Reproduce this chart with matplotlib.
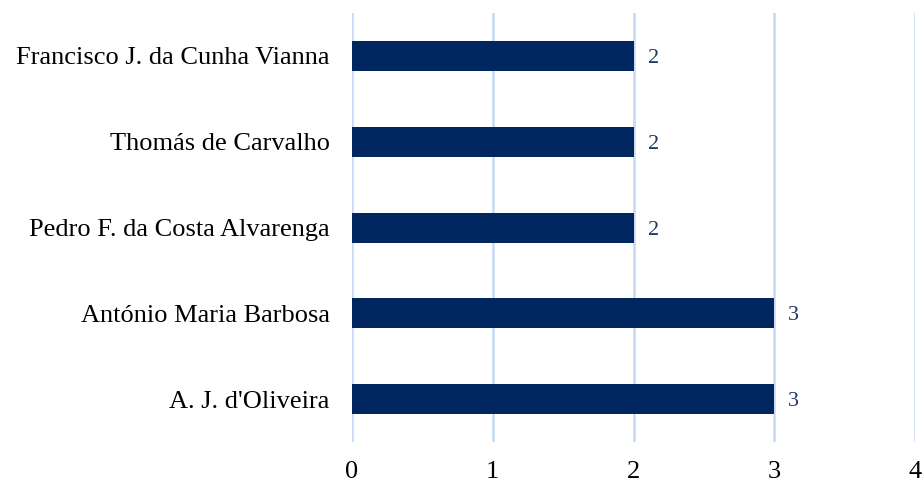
import matplotlib.pyplot as plt

# dados
nomes = ["A. J. d'Oliveira", "António Maria Barbosa", "Pedro F. da Costa Alvarenga",
         "Thomás de Carvalho", "Francisco J. da Cunha Vianna"]
valores = [3, 3, 2, 2, 2]
ticks_x = [0, 1, 2, 3, 4]

plt.rcParams['font.family'] = ['Liberation Serif', 'DejaVu Serif']

fig = plt.figure(figsize=(9.22, 4.83), dpi=100)
ax = fig.add_axes([0.3818, 0.0849, 0.6106, 0.888])

ax.barh(range(len(nomes)), valores, height=0.35, color='#002660', zorder=3)
for i, v in enumerate(valores):
    ax.text(v + 0.1, i, str(v), va='center_baseline', ha='left', fontsize=16, color='#1F3864')

ax.set_xlim(0, 4)
ax.set_ylim(-0.5, len(nomes) - 0.5)
ax.set_xticks(ticks_x)
ax.set_yticks(range(len(nomes)))
ax.set_yticklabels(nomes)
ax.tick_params(axis='both', length=0, labelsize=19, colors='black')
ax.tick_params(axis='x', pad=14)
ax.tick_params(axis='y', pad=16)
ax.grid(axis='x', color='#C6D9F6', linewidth=1.8, zorder=0)
for s in ax.spines.values():
    s.set_visible(False)

fig.savefig('out.png', dpi=100)
